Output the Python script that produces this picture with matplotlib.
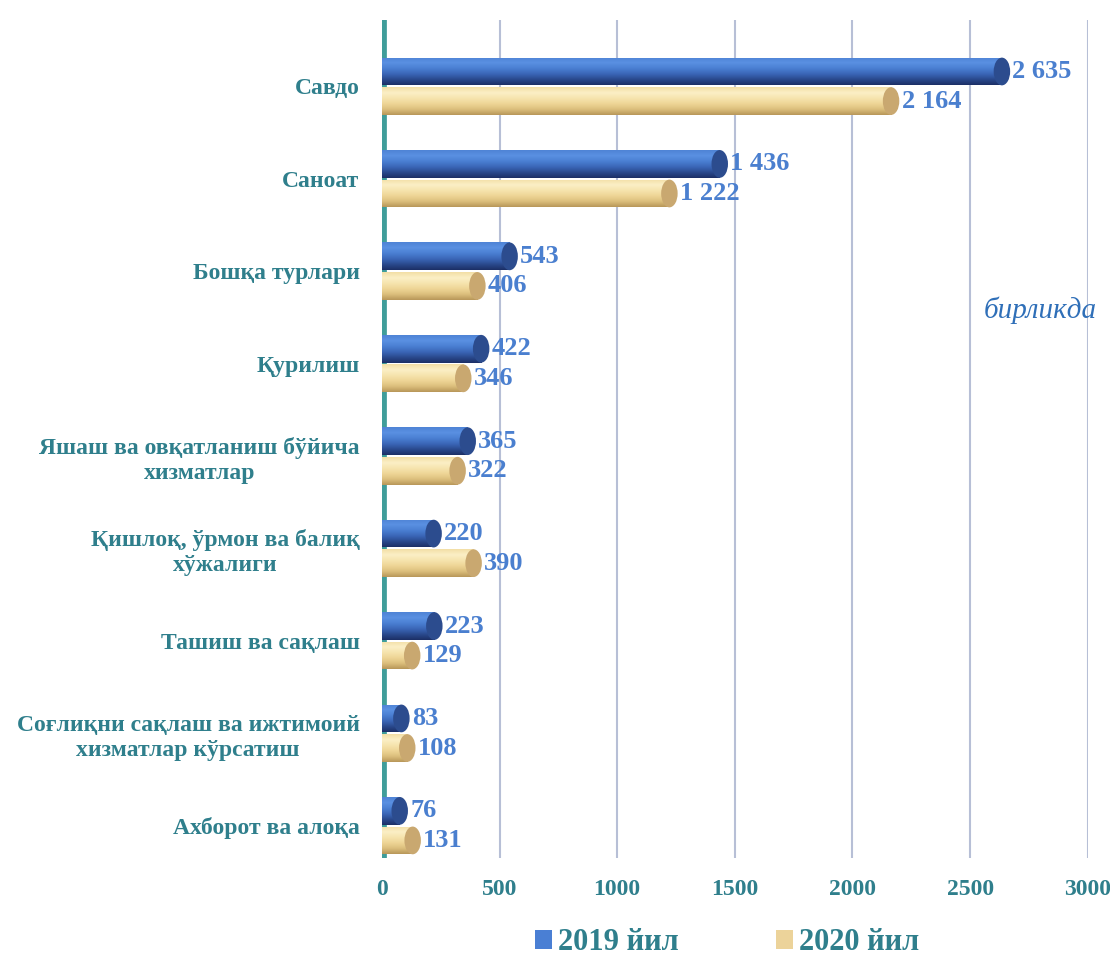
import numpy as np
import matplotlib
matplotlib.use("Agg")
import matplotlib.pyplot as plt
from matplotlib.patches import Ellipse, Patch
from matplotlib.colors import LinearSegmentedColormap

categories = [
    "Савдо",
    "Саноат",
    "Бошқа турлари",
    "Қурилиш",
    "Яшаш ва овқатланиш бўйича\nхизматлар",
    "Қишлоқ, ўрмон ва балиқ\nхўжалиги",
    "Ташиш ва сақлаш",
    "Соғлиқни сақлаш ва ижтимоий\nхизматлар кўрсатиш",
    "Ахборот ва алоқа",
]
values_2019 = [2635, 1436, 543, 422, 365, 220, 223, 83, 76]
values_2020 = [2164, 1222, 406, 346, 322, 390, 129, 108, 131]
series_names = ["2019 йил", "2020 йил"]
xticks = [0, 500, 1000, 1500, 2000, 2500, 3000]
unit_label = "бирликда"

TEAL = "#2f7f8c"
LABEL_BLUE = "#4a7fcf"
SERIF = ["Liberation Serif", "DejaVu Serif"]

fig = plt.figure(figsize=(11.1, 9.58), dpi=100)
ax = fig.add_axes([0.344, 0.1044, 0.636, 0.875])

y = np.arange(len(categories))
off = 0.16
h = 0.30

blue_cmap = LinearSegmentedColormap.from_list(
    "b", ["#4f84d6", "#5a90e2", "#4a7fd2", "#3b67b8", "#2a4a8e", "#1c2f66"])
yel_cmap = LinearSegmentedColormap.from_list(
    "y", ["#f3dfa6", "#fbefc6", "#f6e4ae", "#eed596", "#dcbf7c", "#b8975a"])

b1 = ax.barh(y - off, values_2019, height=h, color="#4a7fd4", zorder=3)
b2 = ax.barh(y + off, values_2020, height=h, color="#f1dca0", zorder=3)

grad = np.linspace(0, 1, 64).reshape(-1, 1)
for bars, cmap, capc in ((b1, blue_cmap, "#2c4c8e"), (b2, yel_cmap, "#c9a870")):
    for bar in bars:
        bb = bar.get_bbox()
        im = ax.imshow(grad, extent=[bb.x0, bb.x1, bb.y1, bb.y0], cmap=cmap,
                       aspect="auto", zorder=3.5, origin="upper")
        im.set_clip_path(bar)
        cap = Ellipse((bb.x1, (bb.y0 + bb.y1) / 2),
                      width=70, height=bb.height, facecolor=capc,
                      edgecolor="none", zorder=3.6)
        ax.add_patch(cap)

def fmt(v):
    return f"{v:,}".replace(",", " ")

for bars, vals in ((b1, values_2019), (b2, values_2020)):
    for bar, v in zip(bars, vals):
        bb = bar.get_bbox()
        ax.text(bb.x1 + 45, (bb.y0 + bb.y1) / 2, fmt(v), va="center", ha="left",
                color=LABEL_BLUE, fontsize=19, fontweight="bold",
                family=SERIF, zorder=5)

ax.set_xlim(0, 3000)
ax.set_ylim(8.35, -0.72)
ax.set_xticks(xticks)
ax.set_xticklabels([str(t) for t in xticks], color=TEAL, fontsize=17,
                   fontweight="bold", family=SERIF)
ax.set_yticks(y)
ax.set_yticklabels(categories, color=TEAL, fontsize=17, fontweight="bold",
                   family=SERIF, linespacing=1.25, multialignment="center")
ax.tick_params(axis="both", length=0)
ax.tick_params(axis="x", pad=15)
ax.tick_params(axis="y", pad=16)
for s in ax.spines.values():
    s.set_visible(False)

for t in xticks[1:]:
    ax.axvline(t, color="#b7bfd6", lw=1.5, zorder=1)
ax.axvline(0, color="#3f9d9a", lw=7, zorder=2)

fig.text(0.937, 0.676, unit_label, ha="center", va="center",
         color="#2f6fb8", fontsize=21, style="italic", family=SERIF)

handles = [Patch(facecolor="#4a7fd4", edgecolor="none"),
           Patch(facecolor="#ecd39a", edgecolor="none")]
leg = fig.legend(handles, series_names, loc="lower center",
                 bbox_to_anchor=(0.655, -0.028), ncol=2, frameon=False,
                 handlelength=0.55, handleheight=0.55, handletextpad=0.2,
                 columnspacing=3.2,
                 prop={"family": SERIF, "weight": "bold", "size": 22})
for t in leg.get_texts():
    t.set_color(TEAL)

fig.savefig("out.png", dpi=100)
